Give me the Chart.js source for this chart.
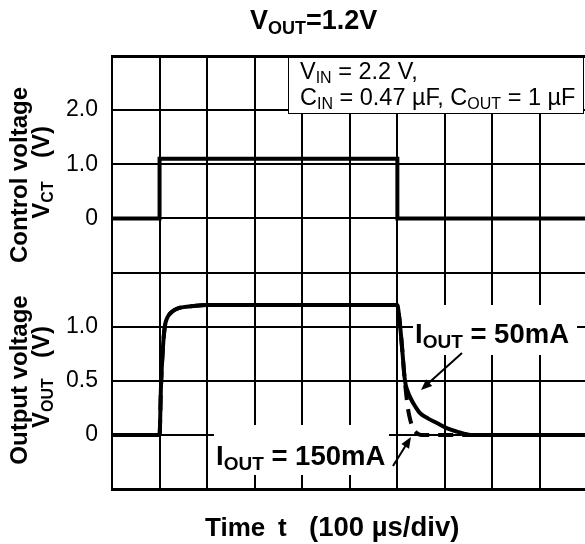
<!DOCTYPE html>
<html>
<head>
<meta charset="utf-8">
<script src="https://cdn.jsdelivr.net/npm/chart.js@4.4.1/dist/chart.umd.min.js"></script>
<style>
  html, body { margin: 0; padding: 0; background: #fff; overflow: hidden; }
  #wrap { width: 592px; height: 544px; }
</style>
</head>
<body>
<div id="wrap"><canvas id="chart" width="592" height="544"></canvas></div>
<script>
// Time axis is in divisions (100 us/div)
const ctTime = [0, 1, 1, 6, 6, 10];
const ctVolt = [0, 0, 1.1, 1.1, 0, 0];

// I_OUT = 50mA (solid)
const out50Time = [0, 1.0, 1.03, 1.07, 1.11, 1.16, 1.22, 1.3, 1.4, 1.5, 1.7, 2.0, 3.0, 6.0, 6.03, 6.06, 6.1, 6.16, 6.22, 6.3, 6.38, 6.48, 6.65, 6.83, 7.05, 7.25, 7.4, 7.55, 10];
const out50Volt = [0, 0, 0.45, 0.8, 1.0, 1.08, 1.12, 1.15, 1.17, 1.18, 1.19, 1.2, 1.2, 1.2, 1.12, 1.0, 0.8, 0.5, 0.4, 0.32, 0.26, 0.2, 0.15, 0.11, 0.06, 0.03, 0.012, 0, 0];

// I_OUT = 150mA (dashed)
const out150Time = [0, 1.0, 1.03, 1.07, 1.11, 1.16, 1.22, 1.3, 1.4, 1.5, 1.7, 2.0, 3.0, 6.0, 6.03, 6.06, 6.1, 6.14, 6.18, 6.22, 6.27, 6.33, 6.4, 6.5, 10];
const out150Volt = [0, 0, 0.45, 0.8, 1.0, 1.08, 1.12, 1.15, 1.17, 1.18, 1.19, 1.2, 1.2, 1.2, 1.12, 1.0, 0.8, 0.58, 0.4, 0.25, 0.14, 0.06, 0.02, 0, 0];

const ctTickLabels = { '0': '0', '1': '1.0', '2': '2.0' };
const outTickLabels = { '0': '0', '0.5': '0.5', '1': '1.0' };

const FONT = '"Liberation Sans", Arial, sans-serif';
Chart.defaults.font.family = FONT;
Chart.defaults.color = '#000';

const toPoints = (xs, ys) => xs.map((x, i) => ({ x: x, y: ys[i] }));

// text with subscripts: parts = [[text, isSub], ...]
function drawRich(ctx, parts, x, y, size, bold, align) {
    const b = bold ? 'bold ' : '';
    const subSize = Math.round(size * 0.68);
    const mainFont = b + size + 'px ' + FONT;
    const subFont = b + subSize + 'px ' + FONT;
    let w = 0;
    parts.forEach(p => { ctx.font = p[1] ? subFont : mainFont; w += ctx.measureText(p[0]).width; });
    let cx = align === 'center' ? x - w / 2 : x;
    ctx.textAlign = 'left';
    ctx.textBaseline = 'alphabetic';
    ctx.fillStyle = '#000';
    parts.forEach(p => {
        ctx.font = p[1] ? subFont : mainFont;
        ctx.fillText(p[0], cx, p[1] ? y + size * 0.17 : y);
        cx += ctx.measureText(p[0]).width;
    });
}

function drawRotated(ctx, parts, x, y, size) {
    ctx.save();
    ctx.translate(x, y);
    ctx.rotate(-Math.PI / 2);
    drawRich(ctx, parts, 0, 0, size, true, 'center');
    ctx.restore();
}

function arrow(ctx, x1, y1, x2, y2) {
    const a = Math.atan2(y2 - y1, x2 - x1);
    const len = 11, half = 4.5;
    ctx.save();
    ctx.strokeStyle = '#000';
    ctx.fillStyle = '#000';
    ctx.lineWidth = 2;
    ctx.beginPath();
    ctx.moveTo(x1, y1);
    ctx.lineTo(x2 - Math.cos(a) * len * 0.8, y2 - Math.sin(a) * len * 0.8);
    ctx.stroke();
    ctx.beginPath();
    ctx.moveTo(x2, y2);
    ctx.lineTo(x2 - Math.cos(a) * len + Math.sin(a) * half, y2 - Math.sin(a) * len - Math.cos(a) * half);
    ctx.lineTo(x2 - Math.cos(a) * len - Math.sin(a) * half, y2 - Math.sin(a) * len + Math.cos(a) * half);
    ctx.closePath();
    ctx.fill();
    ctx.restore();
}

const annotations = {
    id: 'annotations',
    beforeDatasetsDraw(chart) {
        const ctx = chart.ctx;
        ctx.save();
        ctx.fillStyle = '#fff';
        // gaps in the grid behind the labels
        ctx.fillRect(413, 305, 164, 50);
        ctx.fillRect(214, 425, 175, 50);
        // condition box
        ctx.fillRect(288, 57.5, 296, 56.5);
        ctx.strokeStyle = '#000';
        ctx.lineWidth = 1;
        ctx.strokeRect(288.5, 57.5, 295, 56);
        ctx.restore();
    },
    afterDraw(chart) {
        const ctx = chart.ctx;
        drawRich(ctx, [['V', false], ['OUT', true], ['=1.2V', false]], 250, 29, 27, true, 'left');

        drawRotated(ctx, [['Control voltage', false]], 27, 175, 24);
        drawRotated(ctx, [['(V)', false]], 49, 142, 24);
        drawRotated(ctx, [['V', false], ['CT', true]], 49, 200, 24);
        drawRotated(ctx, [['Output voltage', false]], 27, 380, 24);
        drawRotated(ctx, [['(V)', false]], 49, 342, 24);
        drawRotated(ctx, [['V', false], ['OUT', true]], 49, 403, 24);

        drawRich(ctx, [['V', false], ['IN', true], [' = 2.2 V,', false]], 300, 79, 23.5, false, 'left');
        drawRich(ctx, [['C', false], ['IN', true], [' = 0.47 \u00b5F, C', false], ['OUT', true], [' = 1 \u00b5F', false]], 300, 105, 23.5, false, 'left');

        drawRich(ctx, [['I', false], ['OUT', true], [' = 50mA', false]], 415, 343, 27.5, true, 'left');
        drawRich(ctx, [['I', false], ['OUT', true], [' = 150mA', false]], 216, 465, 27.5, true, 'left');
        arrow(ctx, 462, 353, 421, 390);
        arrow(ctx, 393, 466, 411, 437);

        drawRich(ctx, [['Time', false]], 205, 536, 26, true, 'left');
        drawRich(ctx, [['t', false]], 278, 536, 26, true, 'left');
        drawRich(ctx, [['(100 \u00b5s/div)', false]], 309, 536, 27.5, true, 'left');
    }
};

const gridColor = '#000';

const config = {
    type: 'line',
    data: {
        datasets: [{
            label: 'VCT',
            data: toPoints(ctTime, ctVolt),
            yAxisID: 'yCT',
            borderColor: '#000',
            borderWidth: 4,
            pointRadius: 0,
            tension: 0
        }, {
            label: 'IOUT = 50mA',
            data: toPoints(out50Time, out50Volt),
            yAxisID: 'yOUT',
            borderColor: '#000',
            borderWidth: 4,
            pointRadius: 0,
            cubicInterpolationMode: 'monotone'
        }, {
            label: 'IOUT = 150mA',
            data: toPoints(out150Time, out150Volt),
            yAxisID: 'yOUT',
            borderColor: '#000',
            borderWidth: 4,
            borderDash: [15, 9],
            pointRadius: 0,
            cubicInterpolationMode: 'monotone'
        }]
    },
    options: {
        responsive: false,
        animation: false,
        devicePixelRatio: 1,
        layout: { padding: { left: 0, top: 56, right: 4.4, bottom: 55 } },
        plugins: { legend: { display: false }, tooltip: { enabled: false } },
        scales: {
            x: {
                type: 'linear',
                min: 0,
                max: 10,
                ticks: { display: false, stepSize: 1 },
                grid: { color: gridColor, lineWidth: 2, drawTicks: false },
                border: { color: gridColor, width: 3 },
                afterFit: s => { s.height = 0; }
            },
            // stacked axes are laid out bottom-up, so the lower panel comes first
            yOUT: {
                type: 'linear',
                position: 'left',
                stack: 'v',
                stackWeight: 1,
                min: -0.5,
                max: 1.5,
                ticks: {
                    stepSize: 0.5,
                    padding: 14,
                    autoSkip: false,
                    font: { size: 23 },
                    callback: v => outTickLabels[String(v)] || ''
                },
                grid: { color: gridColor, lineWidth: c => (c.tick && c.tick.value === -0.5 ? 3 : 2), drawTicks: false },
                border: { color: gridColor, width: 2 },
                afterFit: s => { s.width = 112; }
            },
            yCT: {
                type: 'linear',
                position: 'left',
                stack: 'v',
                stackWeight: 1,
                min: -1,
                max: 3,
                ticks: {
                    stepSize: 1,
                    padding: 14,
                    autoSkip: false,
                    font: { size: 23 },
                    callback: v => ctTickLabels[String(v)] || ''
                },
                grid: { color: gridColor, lineWidth: c => (c.tick && c.tick.value === 3 ? 3 : 2), drawTicks: false },
                border: { color: gridColor, width: 2 },
                afterFit: s => { s.width = 112; }
            }
        }
    },
    plugins: [annotations]
};

const chart = new Chart(document.getElementById('chart').getContext('2d'), config);
</script>
</body>
</html>
